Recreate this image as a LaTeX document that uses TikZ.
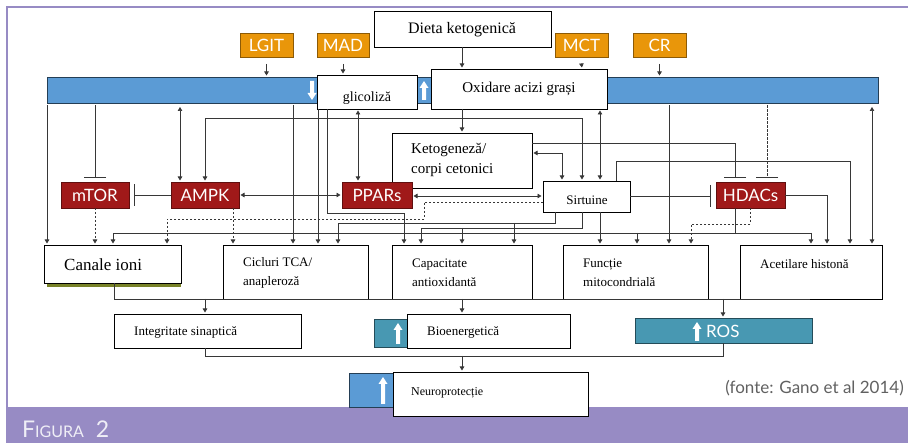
\documentclass[tikz,border=0pt]{standalone}
\usepackage{fontspec}
\setmainfont{Liberation Serif}
\newfontfamily\lato{Lato}
\usetikzlibrary{arrows.meta}
\definecolor{purp}{RGB}{151,139,196}
\definecolor{barblue}{RGB}{91,155,213}
\definecolor{tealc}{RGB}{72,152,178}
\definecolor{orng}{RGB}{233,150,10}
\definecolor{dred}{RGB}{160,25,25}
\definecolor{lgray}{RGB}{55,55,55}
\definecolor{olive}{RGB}{120,130,40}
\newcommand{\mkbox}[7]{\node[#1, anchor=north west, inner sep=0pt, outer sep=0pt, minimum width={(#5-#3)*1pt}, minimum height={(#6-#4)*1pt}] (#2) at (#3,#4) {#7};}
\newcommand{\wuparrow}[3]{\fill[white] ({#1-2},#3) -- ({#1-2},{#2+7}) -- ({#1-4.5},{#2+7}) -- (#1,#2) -- ({#1+4.5},{#2+7}) -- ({#1+2},{#2+7}) -- ({#1+2},#3) -- cycle;}
\newcommand{\wdnarrow}[3]{\fill[white] ({#1-2},#2) -- ({#1-2},{#3-7}) -- ({#1-4.5},{#3-7}) -- (#1,#3) -- ({#1+4.5},{#3-7}) -- ({#1+2},{#3-7}) -- ({#1+2},#2) -- cycle;}
\begin{document}
\begin{tikzpicture}[x=1pt,y=-1pt,
  wbox/.style={draw=black, line width=0.9pt, fill=white},
  obox/.style={draw=orng!60!black, line width=0.5pt, fill=orng, text=white, font=\lato\fontsize{17}{17}\selectfont},
  rbox/.style={draw=dred!60!black, line width=0.5pt, fill=dred, text=white, font=\lato\fontsize{17}{17}\selectfont},
  tbox/.style={draw=tealc!50!black, line width=0.5pt, fill=tealc, text=white, font=\lato\fontsize{15}{15}\selectfont},
  barst/.style={draw=barblue!40!black, line width=0.6pt, fill=barblue},
  txt/.style={inner sep=0pt, anchor=west, align=left},
  ln/.style={draw=lgray, line width=0.7pt},
  arr/.style={ln, -{Triangle[length=4pt,width=4.5pt]}, shorten >=1.5pt},
  darr/.style={ln, {Triangle[length=4pt,width=4.5pt]}-{Triangle[length=4pt,width=4.5pt]}, shorten >=1.5pt, shorten <=1.5pt},
  inh/.style={ln, -{Bar[width=22pt,line width=0.9pt]}, shorten >=4pt},
  dsh/.style={dash pattern=on 2.5pt off 1.5pt}
]
\useasboundingbox (0,0) rectangle (908,443);
\fill[white] (0,0) rectangle (908,443);
% frame
\fill[purp] (6,407) rectangle (908,443);
\draw[purp, line width=2.5pt] (7,407) -- (7,7) -- (908,7);
\node[inner sep=0pt, anchor=base west, text=white!85!purp, font=\lato] (fig) at (22,438) {\fontsize{23}{23}\selectfont F\fontsize{16}{16}\selectfont IGURA\hspace{12pt}\fontsize{23}{23}\selectfont 2};
\node[inner sep=0pt, anchor=east, text=black!62, font=\lato\fontsize{17}{17}\selectfont] (fonte) at (904,388) {(fonte: Gano et al 2014)};

% top boxes
\mkbox{wbox}{dieta}{374}{11}{551}{47}{}
\node[inner sep=0pt, font=\fontsize{16}{16}\selectfont] (tdieta) at (462,30) {Dieta ketogenică};
\mkbox{obox}{lgit}{240}{33}{293}{57}{LGIT}
\mkbox{obox}{mad}{317}{33}{369}{57}{MAD}
\mkbox{obox}{mct}{555}{33}{608}{57}{MCT}
\mkbox{obox}{cr}{633}{33}{686}{57}{CR}

\mkbox{barst}{bar}{47}{77}{878}{103}{}
\wdnarrow{312}{81}{100}
\wuparrow{424}{81}{100}
\mkbox{wbox}{glic}{317}{75}{417}{109}{}
\node[inner sep=0pt, font=\fontsize{14}{14}\selectfont] (tglic) at (367,98) {glicoliză};
\mkbox{wbox}{oxid}{431}{69}{607}{109}{}
\node[inner sep=0pt, font=\fontsize{15}{15}\selectfont] (toxid) at (519,89) {Oxidare acizi grași};

% middle row
\mkbox{rbox}{mtor}{61}{182}{129}{208}{mTOR}
\mkbox{rbox}{ampk}{171}{182}{239}{208}{AMPK}
\mkbox{wbox}{keto}{392}{133}{532}{188}{}
\node[txt, font=\fontsize{15}{20}\selectfont] (tketo) at (411,160) {Ketogeneză/\\corpi cetonici};
\mkbox{rbox}{ppar}{342}{182}{412}{208}{PPARs}
\mkbox{wbox}{sirt}{543}{181}{630}{212}{}
\node[inner sep=0pt, font=\fontsize{13}{13}\selectfont] (tsirt) at (587,200) {Sirtuine};
\mkbox{rbox}{hdac}{716}{182}{785}{208}{HDACs}

% row of effects
\fill[olive] (47,283) rectangle (181,287);
\mkbox{wbox}{canale}{44}{245}{181}{283}{}
\node[txt, font=\fontsize{17}{17}\selectfont] (tcan) at (64,265) {Canale ioni};
\mkbox{wbox}{cicl}{223}{245}{368}{299}{}
\node[txt, font=\fontsize{13}{19}\selectfont] (tcicl) at (243,273) {Cicluri TCA/\\anapleroză};
\mkbox{wbox}{capac}{392}{245}{532}{299}{}
\node[txt, font=\fontsize{13}{19}\selectfont] (tcapac) at (412,273) {Capacitate\\antioxidantă};
\mkbox{wbox}{func}{563}{245}{708}{299}{}
\node[txt, font=\fontsize{13}{19}\selectfont] (tfunc) at (583,273) {Funcție\\mitocondrială};
\mkbox{wbox}{acet}{740}{245}{882}{299}{}
\node[txt, font=\fontsize{13}{13}\selectfont] (tacet) at (760,264) {Acetilare histonă};

% lower rows
\mkbox{wbox}{integ}{114}{314}{301}{348}{}
\node[txt, font=\fontsize{13}{13}\selectfont] (tinteg) at (134,332) {Integritate sinaptică};
\mkbox{tbox}{bioq}{374}{319}{408}{347}{}
\wuparrow{398}{323}{344}
\mkbox{wbox}{bioen}{407}{314}{570}{348}{}
\node[txt, font=\fontsize{13}{13}\selectfont] (tbioen) at (427,332) {Bioenergetică};
\mkbox{tbox}{ros}{635}{318}{812}{343}{}
\wuparrow{697}{322}{341}
\node[txt, text=white, font=\lato\fontsize{17}{17}\selectfont] (tros) at (706,331) {ROS};
\mkbox{barst}{neuq}{349}{373}{393}{407}{}
\wuparrow{383}{377}{404}
\mkbox{wbox}{neuro}{393}{372}{588}{416}{}
\node[txt, font=\fontsize{12}{12}\selectfont] (tneuro) at (411,393) {Neuroprotecție};

% inputs to bar
\draw[arr] ([yshift=-7pt]lgit.south) -- (lgit.south |- bar.north);
\draw[arr] ([yshift=-7pt]mad.south) -- (mad.south |- glic.north);
\draw[arr] ([yshift=-7pt]mct.south) -- (582,0 |- oxid.north);
\draw[arr] ([yshift=-7pt]cr.south) -- (cr.south |- bar.north);
\draw[arr] (462,0 |- dieta.south) -- (462,0 |- oxid.north);

% from bar / glycolysis / oxidation
\draw[arr, shorten <=2.5pt] (47,0 |- bar.south) -- (47,0 |- canale.north);
\draw[inh, shorten <=2.5pt] (95,0 |- bar.south) -- (95,0 |- mtor.north);
\draw[darr, shorten <=4pt] (180,0 |- bar.south) -- (180,0 |- ampk.north);
\draw[darr] (205,0 |- ampk.north) |- (582,118) -- (582,0 |- sirt.north);
\draw[arr, shorten <=2.5pt] (293,0 |- bar.south) -- (293,0 |- cicl.north);
\draw[arr] (318,0 |- glic.south) -- (318,0 |- cicl.north);
\draw[arr] (327,0 |- glic.south) |- (404,213) -- (404,0 |- capac.north);
\draw[darr] (358,0 |- glic.south) -- (358,0 |- ppar.north);
\draw[arr] (462,0 |- oxid.south) -- (462,0 |- keto.north);
\draw[darr] (600,0 |- oxid.south) -- (600,0 |- sirt.north);
\draw[darr] (keto.east |- 0,153) -| (562,0 |- sirt.north);
\draw[inh] (keto.east |- 0,143) -| (735,0 |- hdac.north);
\draw[inh, dsh, shorten <=2.5pt] (767,0 |- bar.south) -- (767,0 |- hdac.north);
\draw[arr, shorten <=2.5pt] (669,0 |- bar.south) -- (669,0 |- func.north);
\draw[darr, shorten <=4pt] (872,0 |- bar.south) -- (872,0 |- acet.north);

% middle row interactions
\draw[inh, shorten >=5pt] (ampk.west) -- (mtor.east);
\draw[darr] (ampk.east) -- (ppar.west);
\draw[darr] (sirt.west |- 0,196) -- (ppar.east |- 0,196);
\draw[inh, shorten >=5pt] (sirt.east |- 0,196) -- (hdac.west |- 0,196);
\draw[arr] (616,0 |- sirt.north) |- (850,161) -- (850,0 |- acet.north);
\draw[arr] (hdac.east) -| (827,0 |- acet.north);
\draw[arr, dsh] (750,0 |- hdac.south) |- (691,224) -- (691,0 |- func.north);
\draw[arr, dsh] (95,0 |- mtor.south) -- (95,0 |- canale.north);
\draw[arr, dsh] (233,0 |- ampk.south) -- (233,0 |- cicl.north);
\draw[arr, dsh] (sirt.west |- 0,202) -| (424,219) -| (167,0 |- canale.north);

% sirtuins / hdacs to effects
\draw[arr] (555,0 |- sirt.south) |- (338,223) -- (338,0 |- cicl.north);
\draw[arr] (514,223) -- (514,0 |- capac.north);
\draw[arr] (582,0 |- sirt.south) |- (421,228) -- (421,0 |- capac.north);
\draw[arr] (462,228) -- (462,0 |- capac.north);
\draw[arr] (600,0 |- sirt.south) -- (600,0 |- func.north);
\draw[arr] (735,0 |- hdac.south) |- (113,233) -- (113,0 |- canale.north);
\draw[ln] (735,233) -- (811,233);
\draw[arr] (637,233) -- (637,0 |- func.north);
\draw[arr] (811,233) -- (811,0 |- acet.north);

% collectors
\draw[ln] (114,0 |- canale.south) -- (114,299) -- (810,299);
\draw[arr] (205,299) -- (205,0 |- integ.north);
\draw[arr] (462,299) -- (462,0 |- bioen.north);
\draw[arr] (723,299) -- (723,0 |- ros.north);
\draw[ln] (205,0 |- integ.south) |- (723,356) -- (723,0 |- ros.south);
\draw[arr] (462,356) -- (462,0 |- neuro.north);
\end{tikzpicture}
\end{document}
